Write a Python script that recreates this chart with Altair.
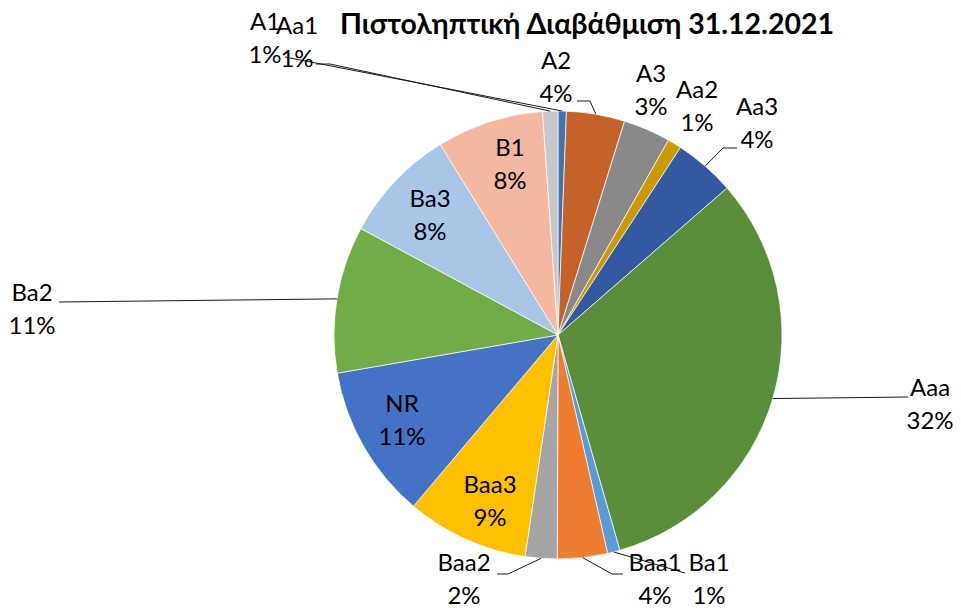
import altair as alt
import pandas as pd

# ---- data (clockwise from 12 o'clock) ----
categories = ["A1", "A2", "A3", "Aa2", "Aa3", "Aaa", "Ba1", "Baa1", "Baa2",
              "Baa3", "NR", "Ba2", "Ba3", "B1", "Aa1"]
values = [0.6, 4.2, 3.4, 1.0, 4.4, 31.9, 0.9, 3.6, 2.3,
          8.8, 11.1, 10.6, 8.3, 7.7, 1.1]
colors = ["#3F74B0", "#C5622A", "#898989", "#CC9A06", "#335AA0", "#5A8E3A",
          "#5B9BD5", "#ED7D31", "#A5A5A5", "#FFC000", "#4472C4", "#70AD47",
          "#ABC5E7", "#F4B8A1", "#C8C8C8"]
title_text = "Πιστοληπτική Διαβάθμιση 31.12.2021"

# ---- layout (page pixels) ----
OFF = 8
CX, CY, R = 558, 335, 224
label_pos = {
    "A1": (265, 39), "A2": (556, 78), "A3": (651, 91), "Aa2": (697, 107),
    "Aa3": (757, 124), "Aaa": (930, 405), "Ba1": (709, 580), "Baa1": (655, 580),
    "Baa2": (464, 580), "Baa3": (490, 502), "NR": (402, 421), "Ba2": (32, 310),
    "Ba3": (430, 216), "B1": (510, 165), "Aa1": (297, 43),
}
leaders = {  # elbow point, end point
    "A1": ((285, 57), (285, 57)),
    "A2": ((590, 101), (577, 101)),
    "Aa3": ((723, 148), (737, 148)),
    "Aaa": ((908, 397), (908, 397)),
    "Ba1": ((685, 573), (685, 573)),
    "Baa1": ((612, 574), (623, 574)),
    "Baa2": ((508, 574), (497, 574)),
    "Ba2": ((59, 302), (59, 302)),
    "Aa1": ((330, 64), (316, 64)),
}

rows = []
for i, (c, v) in enumerate(zip(categories, values)):
    lx, ly = label_pos[c]
    row = {"idx": i, "cat": c, "value": v,
           "lx": lx - OFF, "ly": ly - OFF, "has_leader": c in leaders}
    if c in leaders:
        (bx, by), (ex, ey) = leaders[c]
        row.update({"bx": bx - OFF, "by": by - OFF, "ex": ex - OFF, "ey": ey - OFF})
    else:
        row.update({"bx": 0, "by": 0, "ex": 0, "ey": 0})
    rows.append(row)
df = pd.DataFrame(rows)

cx0, cy0 = CX - OFF, CY - OFF
FONT = "Lato"
FS = 24
LH = 16.5

base = alt.Chart(df).transform_joinaggregate(total="sum(value)")

pie = base.mark_arc(outerRadius=R, stroke="white", strokeWidth=0.7).encode(
    theta=alt.Theta("value:Q", stack=True),
    color=alt.Color("cat:N", scale=alt.Scale(domain=categories, range=colors), legend=None),
    order=alt.Order("idx:Q"),
    x=alt.value(cx0), y=alt.value(cy0),
)

geo = base.transform_window(
    cum="sum(value)", sort=[alt.SortField("idx")], frame=[None, 0]
).transform_calculate(
    mid="(datum.cum - datum.value/2)/datum.total*2*PI",
).transform_calculate(
    px=f"{cx0} + {R}*sin(datum.mid)",
    py=f"{cy0} - {R}*cos(datum.mid)",
).transform_filter("datum.has_leader")

lead1 = geo.mark_rule(color="#1a1a1a", strokeWidth=1).encode(
    x=alt.X("px:Q", scale=None, axis=None), y=alt.Y("py:Q", scale=None, axis=None),
    x2="bx:Q", y2="by:Q",
)
lead2 = geo.mark_rule(color="#1a1a1a", strokeWidth=1).encode(
    x=alt.X("bx:Q", scale=None, axis=None), y=alt.Y("by:Q", scale=None, axis=None),
    x2="ex:Q", y2="ey:Q",
)

lab = base.transform_calculate(
    pct="format(datum.value/datum.total*100, '.0f') + '%'",
    y1=f"datum.ly - {LH}", y2=f"datum.ly + {LH}",
)
t1 = lab.mark_text(font=FONT, fontSize=FS, color="black", baseline="middle", align="center").encode(
    x=alt.X("lx:Q", scale=None, axis=None), y=alt.Y("y1:Q", scale=None, axis=None), text="cat:N")
t2 = lab.mark_text(font=FONT, fontSize=FS, color="black", baseline="middle", align="center").encode(
    x=alt.X("lx:Q", scale=None, axis=None), y=alt.Y("y2:Q", scale=None, axis=None), text="pct:N")

title = alt.Chart(pd.DataFrame({"t": [title_text]})).mark_text(
    font=FONT, fontSize=28.5, fontWeight="bold", color="black", baseline="middle", align="center"
).encode(text="t:N", x=alt.value(587 - OFF), y=alt.value(25 - OFF))

chart = alt.layer(pie, lead1, lead2, t1, t2, title).properties(
    width=945, height=599, padding=0, autosize="none"
).configure_view(stroke=None)

chart.save("out.html", embed_options={"renderer": "svg", "actions": False})
